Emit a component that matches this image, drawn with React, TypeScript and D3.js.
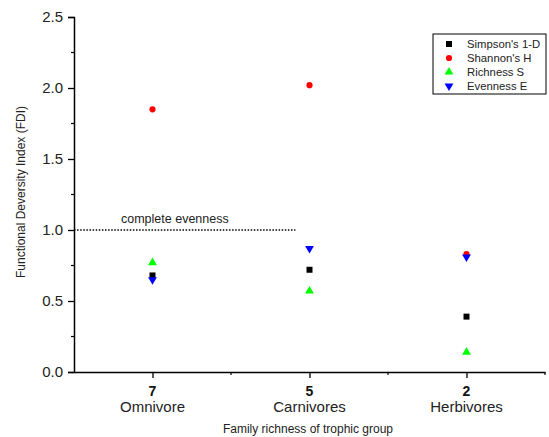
import React, { useEffect, useRef } from 'react';
import * as d3 from 'd3';

const groups = ['Omnivore', 'Carnivores', 'Herbivores'];
const richness = ['7', '5', '2'];
const simpson = [0.68, 0.72, 0.39];
const shannon = [1.85, 2.02, 0.83];
const richnessS = [0.77, 0.57, 0.14];
const evenness = [0.65, 0.87, 0.81];
const yTicks = [0, 0.5, 1.0, 1.5, 2.0, 2.5];
const evennessLine = 1.0;

const series = [
  { name: "Simpson's 1-D", values: simpson, color: '#000000', shape: 'square' },
  { name: "Shannon's H", values: shannon, color: '#ff0000', shape: 'circle' },
  { name: 'Richness S', values: richnessS, color: '#00ff00', shape: 'up' },
  { name: 'Evenness E', values: evenness, color: '#0000ff', shape: 'down' },
];

const symbolPath = (shape: string) => {
  if (shape === 'square') return d3.symbol(d3.symbolSquare, 36)();
  if (shape === 'circle') return d3.symbol(d3.symbolCircle, 30)();
  return d3.symbol(d3.symbolTriangle, 34)();
};

const App = () => {
  const svgRef = useRef<SVGSVGElement>(null);

  useEffect(() => {
    const svg = d3.select(svgRef.current);
    svg.selectAll('*').remove();
    const font = '"Liberation Sans", Arial, sans-serif';
    const left = 74, right = 545, top = 17, bottom = 372;

    const x = d3.scaleLinear().domain([0, 3]).range([left, right]);
    const y = d3.scaleLinear().domain([0, 2.5]).range([bottom, top]);

    const g = svg.append('g').attr('font-family', font);

    // y axis
    const yAxis = g.append('g')
      .attr('transform', `translate(${left},0)`)
      .call(d3.axisLeft(y).tickValues(yTicks).tickFormat(d3.format('.1f')).tickSize(6).tickPadding(5));
    yAxis.select('.domain').attr('stroke-width', 1.5);
    yAxis.selectAll('.tick line').attr('stroke-width', 1.3);
    yAxis.selectAll('.tick text').attr('font-size', 15).attr('font-family', font).attr('fill', '#222');
    g.append('g')
      .selectAll('line')
      .data([0.25, 0.75, 1.25, 1.75, 2.25])
      .enter()
      .append('line')
      .attr('x1', left - 3)
      .attr('x2', left)
      .attr('y1', d => y(d))
      .attr('y2', d => y(d))
      .attr('stroke', '#000')
      .attr('stroke-width', 1.2);

    // x axis
    const xAxis = g.append('g')
      .attr('transform', `translate(0,${bottom})`)
      .call(d3.axisBottom(x).tickValues([0.5, 1.5, 2.5]).tickFormat(() => '').tickSize(6).tickSizeOuter(0));
    xAxis.select('.domain').attr('stroke-width', 1.5);
    xAxis.selectAll('.tick line').attr('stroke-width', 1.3);
    g.append('g')
      .selectAll('line')
      .data([1, 2, 3])
      .enter()
      .append('line')
      .attr('x1', d => x(d))
      .attr('x2', d => x(d))
      .attr('y1', bottom)
      .attr('y2', bottom + 3)
      .attr('stroke', '#000')
      .attr('stroke-width', 1.2);

    groups.forEach((grp, i) => {
      g.append('text')
        .attr('x', x(i + 0.5))
        .attr('y', 396)
        .attr('text-anchor', 'middle')
        .attr('font-size', 14)
        .attr('font-weight', 'bold')
        .attr('fill', '#111')
        .text(richness[i]);
      g.append('text')
        .attr('x', x(i + 0.5))
        .attr('y', 412)
        .attr('text-anchor', 'middle')
        .attr('font-size', 15)
        .attr('fill', '#222')
        .text(grp);
    });

    g.append('text')
      .attr('x', 308)
      .attr('y', 433)
      .attr('text-anchor', 'middle')
      .attr('font-size', 12)
      .attr('fill', '#222')
      .text('Family richness of trophic group');

    g.append('text')
      .attr('transform', 'translate(25,192) rotate(-90)')
      .attr('text-anchor', 'middle')
      .attr('font-size', 12)
      .attr('fill', '#222')
      .text('Functional Deversity Index (FDI)');

    // complete evenness line
    g.append('line')
      .attr('x1', x(0))
      .attr('x2', x(1.41))
      .attr('y1', y(evennessLine))
      .attr('y2', y(evennessLine))
      .attr('stroke', '#000')
      .attr('stroke-width', 1.5)
      .attr('stroke-dasharray', '1.5,1.6');
    g.append('text')
      .attr('x', 121)
      .attr('y', y(evennessLine) - 7)
      .attr('font-size', 12.5)
      .attr('fill', '#222')
      .text('complete evenness');

    // points
    series.forEach(s => {
      g.append('g')
        .selectAll('path')
        .data(s.values)
        .enter()
        .append('path')
        .attr('d', symbolPath(s.shape))
        .attr('transform', (d, i) =>
          `translate(${x(i + 0.5)},${y(d)})${s.shape === 'down' ? ' rotate(180)' : ''}`)
        .attr('fill', s.color);
    });

    // legend
    const lg = g.append('g').attr('transform', 'translate(433,34)');
    lg.append('rect')
      .attr('width', 113)
      .attr('height', 60)
      .attr('fill', '#fff')
      .attr('stroke', '#000')
      .attr('stroke-width', 1);
    series.forEach((s, i) => {
      const yy = 10 + i * 14;
      lg.append('path')
        .attr('d', symbolPath(s.shape))
        .attr('transform', `translate(16,${yy})${s.shape === 'down' ? ' rotate(180)' : ''}`)
        .attr('fill', s.color);
      lg.append('text')
        .attr('x', 34)
        .attr('y', yy + 4)
        .attr('font-size', 11.3)
        .attr('fill', '#222')
        .text(s.name);
    });
  }, []);

  return <svg ref={svgRef} width={549} height={437} style={{ position: 'absolute', left: 0, top: 0 }} />;
};

export default App;
